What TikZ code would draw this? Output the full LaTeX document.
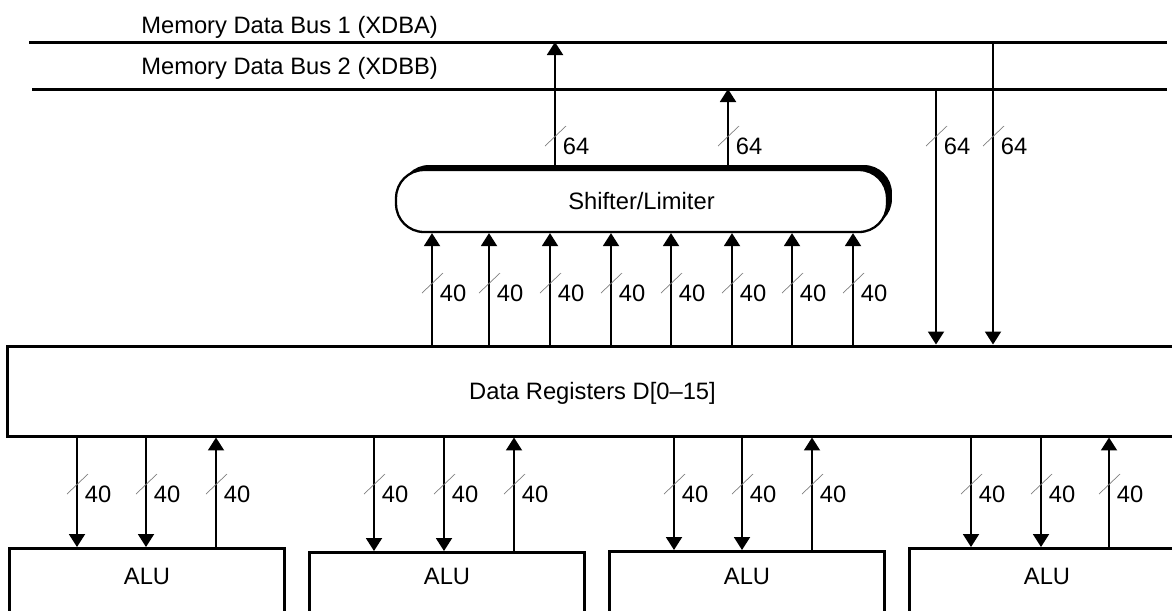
\documentclass[tikz,border=0pt]{standalone}
\usepackage{fontspec}
\setmainfont{Liberation Sans}
\usetikzlibrary{arrows.meta,shadows,positioning}
\def \tick{ ++(-10,0) -- ++(21,-20) }

\begin{document}
\begin{tikzpicture}[x=0.02cm, y=-0.02cm,
    font=\fontsize{13.5}{16}\selectfont,
    box/.style={draw, line width=1.7pt, fill=white, text height=9.7pt, text depth=0pt},
    arr/.style={line width=1.1pt, -{Triangle[width=0.32cm,length=0.26cm]}},
    bus/.style={line width=1.7pt},
    slash/.style={gray, line width=0.4pt},
    wlab/.style={anchor=west, inner sep=0pt, xshift=0.15cm},
    busname/.style={anchor=base west, inner sep=0pt}]

    \useasboundingbox (0,0) rectangle (1172,610);

    \coordinate (b1w) at (29,42);
    \coordinate (b1e) at (1167,42);
    \coordinate (b2w) at (32,89);
    \coordinate (b2e) at (1167,89);
    \draw[bus] (b1w) -- (b1e);
    \draw[bus] (b2w) -- (b2e);
    \node[busname] (xdba) at (141,33) {Memory Data Bus 1 (XDBA)};
    \node[busname] (xdbb) at (141,74) {Memory Data Bus 2 (XDBB)};

    \coordinate (tapA) at (555,42);
    \coordinate (tapB) at (728,89);
    \coordinate (tapC) at (936,89);
    \coordinate (tapD) at (993,42);

    \node[box, line width=1.3pt, rounded corners=0.56cm, minimum width=9.82cm, minimum height=1.24cm,
      general shadow={fill=black, shadow xshift=0.1cm, shadow yshift=0.1cm}] (shifter) at (641.5,201) {Shifter/Limiter};

    \node[box, minimum width=23.42cm, minimum height=1.8cm] (dreg) at (592.5,391) {Data Registers D[0–15]};

    \draw[arr] (tapA |- shifter.north) -- (tapA);
    \draw[arr] (tapB |- shifter.north) -- (tapB);
    \draw[arr] (tapC) -- (tapC |- dreg.north);
    \draw[arr] (tapD) -- (tapD |- dreg.north);
    \foreach \x in {555,728,936,993} {
      \draw[slash] (\x,146) \tick;
      \node[wlab] (m\x) at (\x,146) {64};
    }

    \foreach \x in {432,489,550,611,671,732,792,853} {
      \draw[arr] (dreg.north -| \x,0) -- (shifter.south -| \x,0);
      \draw[slash] (\x,293) \tick;
      \node[wlab] (s\x) at (\x,293) {40};
    }

    \foreach \cx/\ty/\a/\b/\c [count=\i] in {147/547/77/146/216, 447/551/374/444/514,
        747/550/674/742/812, 1047/547/971/1041/1109} {
      \node[box, minimum width=5.52cm, minimum height=2.4cm, anchor=north] (alu\i) at (\cx,\ty) {};
      \node (alut\i) at (alu\i.north |- 0,576) {ALU};
      \draw[arr] (dreg.south -| \a,0) -- (alu\i.north -| \a,0);
      \draw[arr] (dreg.south -| \b,0) -- (alu\i.north -| \b,0);
      \draw[arr] (alu\i.north -| \c,0) -- (dreg.south -| \c,0);
      \foreach \x in {\a,\b,\c} {
        \draw[slash] (\x,494) \tick;
        \node[wlab] (w\i\x) at (\x,494) {40};
      }
    }

  \end{tikzpicture}
\end{document}
